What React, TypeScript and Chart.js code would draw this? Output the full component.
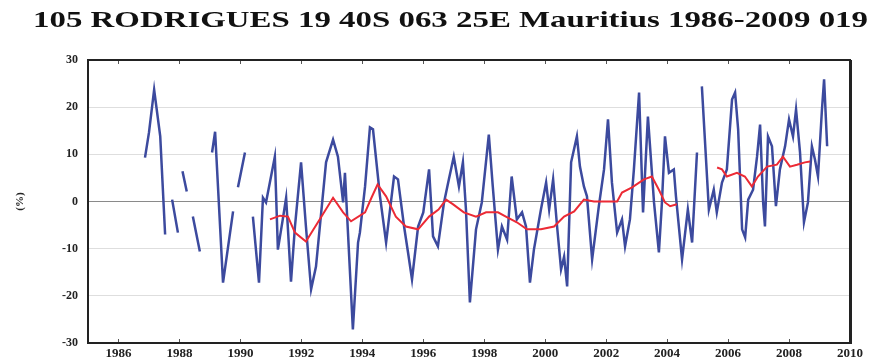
import React, { useEffect, useRef } from "react";
import { Chart, registerables } from "chart.js";

Chart.register(...registerables);

const titleText = "105 RODRIGUES 19 40S 063 25E Mauritius 1986-2009 019";
const yAxisLabel = "(%)";

const xTickYears = [1986, 1988, 1990, 1992, 1994, 1996, 1998, 2000, 2002, 2004, 2006, 2008, 2010];
const yTickValues = [-30, -20, -10, 0, 10, 20, 30];

// Monthly anomaly series (null = missing data)
const blueX = [
  1986.87, 1987.0, 1987.17, 1987.37, 1987.53, 1987.6,
  1987.76, 1987.95, 1988.02,
  1988.1, 1988.24, 1988.34,
  1988.44, 1988.67, 1988.9,
  1989.07, 1989.17, 1989.43, 1989.76, 1989.84,
  1989.92, 1990.15, 1990.3,
  1990.41, 1990.61, 1990.74, 1990.84, 1991.13, 1991.23, 1991.39, 1991.5, 1991.66, 1991.79,
  1991.99, 1992.15, 1992.32, 1992.48, 1992.81, 1993.04, 1993.2, 1993.37, 1993.43, 1993.69,
  1993.86, 1993.92, 1994.09, 1994.25, 1994.35, 1994.58, 1994.78, 1995.04, 1995.17, 1995.37,
  1995.5, 1995.63, 1995.83, 1996.0, 1996.19, 1996.32, 1996.48, 1996.68, 1996.84, 1997.0,
  1997.17, 1997.3, 1997.4, 1997.53, 1997.73, 1997.92, 1998.15, 1998.28, 1998.45, 1998.58,
  1998.75, 1998.9, 1999.07, 1999.24, 1999.37, 1999.5, 1999.63, 1999.86, 2000.03, 2000.13,
  2000.26, 2000.39, 2000.52, 2000.62, 2000.72, 2000.85, 2001.04, 2001.14, 2001.27, 2001.37,
  2001.54, 2001.76, 2001.93, 2002.06, 2002.19, 2002.36, 2002.52, 2002.62, 2002.78, 2002.91,
  2003.08, 2003.21, 2003.37, 2003.57, 2003.73, 2003.83, 2003.93, 2004.06, 2004.22, 2004.29,
  2004.49, 2004.68, 2004.82, 2004.98, 2005.06,
  2005.14, 2005.37, 2005.53, 2005.63, 2005.8, 2005.96, 2006.13, 2006.23, 2006.33, 2006.46,
  2006.56, 2006.66, 2006.82, 2006.95, 2007.05, 2007.15, 2007.21, 2007.31, 2007.44, 2007.57,
  2007.7, 2007.87, 2008.0, 2008.13, 2008.23, 2008.36, 2008.49, 2008.62, 2008.75, 2008.85,
  2008.95, 2009.08, 2009.15, 2009.25,
];
const blueY = [
  9.3, 14.6, 23.7, 13.8, -7.0, null,
  0.4, -6.6, null,
  6.4, 2.1, null,
  -3.2, -10.6, null,
  10.4, 14.8, -17.2, -2.1, null,
  3.0, 10.4, null,
  -3.2, -17.2, 0.8, -0.2, 9.5, -10.2, -3.8, 0.8, -17.0, -5.3,
  8.3, -5.3, -18.6, -13.8, 8.3, 13.1, 9.5, -0.2, 6.1, -27.1,
  -8.7, -6.6, 3.2, 15.7, 15.3, 1.1, -8.7, 5.3, 4.7, -5.3,
  -10.8, -16.5, -5.3, -2.3, 6.8, -7.4, -9.5, -0.2, 4.7, 9.5,
  3.2, 8.3, -1.7, -21.4, -5.9, -0.2, 14.2, 3.2, -10.2, -5.3,
  -8.1, 5.3, -3.8, -2.3, -5.3, -17.2, -10.2, -1.7, 4.0, -1.7,
  4.7, -5.3, -14.4, -11.7, -18.0, 8.3, 13.8, 7.4, 3.2, 1.1,
  -12.3, -1.0, 6.8, 17.4, 4.0, -6.6, -3.8, -9.5, -3.8, 6.8,
  23.1, -2.3, 18.0, -0.2, -10.8, -0.2, 13.8, 6.1, 6.8, 1.1,
  -12.3, -1.7, -8.7, 10.4, null,
  24.4, -1.7, 2.5, -2.3, 4.0, 6.8, 21.6, 23.1, 15.3, -5.9,
  -7.6, 0.4, 2.5, 9.5, 16.3, -0.2, -5.3, 13.8, 11.7, -1.0,
  6.8, 11.7, 17.4, 13.8, 19.5, 10.4, -4.4, -0.2, 11.7, 8.9,
  5.3, 19.5, 25.9, 11.7,
];

// 12-month running mean (null = gap)
const redX = [
  1990.97, 1991.3, 1991.56, 1991.79, 1992.15, 1992.6, 1993.04, 1993.37, 1993.63, 1994.09,
  1994.3, 1994.5, 1994.78, 1995.1, 1995.43, 1995.83, 1996.19, 1996.5, 1996.75, 1996.98,
  1997.33, 1997.73, 1998.06, 1998.45, 1998.71, 1999.07, 1999.4, 1999.86, 2000.29, 2000.62,
  2000.95, 2001.27, 2001.6, 2002.03, 2002.36, 2002.52, 2002.85, 2003.24, 2003.5, 2003.73,
  2003.93, 2004.1, 2004.32, 2005.0,
  2005.64, 2005.8, 2005.96, 2006.29, 2006.55, 2006.78, 2006.98, 2007.28, 2007.6, 2007.8,
  2008.03, 2008.26, 2008.52, 2008.69,
];
const redY = [
  -3.8, -3.0, -3.2, -6.6, -8.5, -3.8, 0.8, -2.3, -4.2, -2.3,
  0.8, 3.6, 1.1, -3.2, -5.3, -5.9, -3.2, -1.7, 0.4, -0.6,
  -2.3, -3.2, -2.3, -2.3, -3.2, -4.4, -5.9, -5.9, -5.3, -3.2,
  -2.1, 0.4, 0.0, 0.0, 0.0, 1.9, 3.0, 4.7, 5.3, 2.5,
  -0.2, -1.0, -0.6, null,
  7.2, 6.8, 5.3, 6.1, 5.3, 3.2, 5.3, 7.4, 7.8, 9.5,
  7.4, 7.8, 8.3, 8.5,
];

const toPoints = (xs: number[], ys: (number | null)[]) =>
  xs.map((x, i) => ({ x, y: ys[i] }));

const framePlugin = {
  id: "frameAndTitle",
  afterDraw(chart: any) {
    const { ctx, chartArea } = chart;
    const { left, right, top, bottom } = chartArea;
    const xs = chart.scales.x;
    ctx.save();
    // inner tick marks on top and bottom
    ctx.strokeStyle = "#555";
    ctx.lineWidth = 1;
    xs.ticks.forEach((t: any) => {
      const px = Math.round(xs.getPixelForValue(t.value)) + 0.5;
      ctx.beginPath();
      ctx.moveTo(px, top);
      ctx.lineTo(px, top + 4);
      ctx.moveTo(px, bottom);
      ctx.lineTo(px, bottom - 4);
      ctx.stroke();
    });
    // frame
    ctx.strokeStyle = "#222";
    ctx.lineWidth = 2;
    ctx.strokeRect(left, top, right - left, bottom - top);
    ctx.lineWidth = 3;
    ctx.beginPath();
    ctx.moveTo(right + 0.5, top);
    ctx.lineTo(right + 0.5, bottom + 1);
    ctx.stroke();
    // title, stretched horizontally like the original
    ctx.font = 'bold 23px "Liberation Serif"';
    ctx.fillStyle = "#111";
    ctx.textBaseline = "middle";
    ctx.textAlign = "left";
    const w = ctx.measureText(titleText).width;
    ctx.translate(33, 21);
    ctx.scale(835 / w, 1);
    ctx.fillText(titleText, 0, 0);
    ctx.restore();
  },
};

export default function App() {
  const ref = useRef<HTMLCanvasElement | null>(null);
  useEffect(() => {
    if (!ref.current) return;
    const chart = new Chart(ref.current, {
      type: "line",
      data: {
        datasets: [
          {
            label: "12-month mean",
            data: toPoints(redX, redY),
            borderColor: "#ec2a35",
            borderWidth: 2,
            pointRadius: 0,
            spanGaps: false,
            tension: 0,
            order: 0,
          },
          {
            label: "monthly",
            data: toPoints(blueX, blueY),
            borderColor: "#3c4a9e",
            borderWidth: 2.5,
            pointRadius: 0,
            spanGaps: false,
            tension: 0,
            order: 1,
          },
        ],
      },
      options: {
        animation: false,
        responsive: false,
        devicePixelRatio: 1,
        layout: { padding: { left: 0, top: 60, right: 32, bottom: 0 } },
        plugins: {
          legend: { display: false },
          tooltip: { enabled: false },
          title: { display: false },
        },
        scales: {
          x: {
            type: "linear",
            min: 1985,
            max: 2010,
            afterBuildTicks: (scale: any) => {
              scale.ticks = xTickYears.map((v) => ({ value: v }));
            },
            afterFit: (scale: any) => {
              scale.height = 18;
            },
            grid: { display: false, drawTicks: false },
            border: { display: false },
            ticks: {
              padding: 3,
              maxRotation: 0,
              autoSkip: false,
              color: "#222",
              font: { family: '"Liberation Serif"', size: 13, weight: "bold" },
              callback: (v: any) => String(v),
            },
          },
          y: {
            type: "linear",
            min: -30,
            max: 30,
            afterBuildTicks: (scale: any) => {
              scale.ticks = yTickValues.map((v) => ({ value: v }));
            },
            afterFit: (scale: any) => {
              scale.width = 88;
            },
            grid: {
              drawTicks: false,
              lineWidth: 1,
              color: (c: any) =>
                c.tick && c.tick.value === 0
                  ? "#8a8a8a"
                  : Math.abs(c.tick?.value) === 30
                  ? "rgba(0,0,0,0)"
                  : "#dedede",
            },
            border: { display: false },
            title: {
              display: true,
              text: yAxisLabel,
              color: "#222",
              padding: { top: 14, bottom: 0 },
              font: { family: '"Liberation Serif"', size: 11, weight: "bold" },
            },
            ticks: {
              padding: 10,
              color: "#222",
              font: { family: '"Liberation Serif"', size: 12, weight: "bold" },
              callback: (v: any) => String(v),
            },
          },
        },
      },
      plugins: [framePlugin],
    });
    return () => chart.destroy();
  }, []);
  return (
    <div style={{ position: "absolute", left: 0, top: 0, width: 882, height: 361, background: "#fff" }}>
      <canvas ref={ref} width={882} height={361} style={{ width: 882, height: 361, display: "block" }} />
    </div>
  );
}
